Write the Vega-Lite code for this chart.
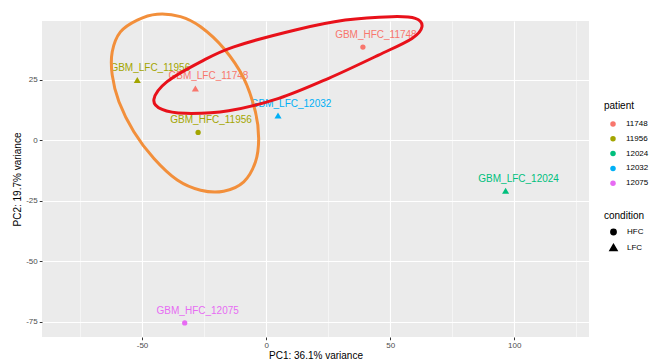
{
  "$schema": "https://vega.github.io/schema/vega-lite/v6.json",
  "width": 547,
  "height": 316,
  "autosize": {"type": "none"},
  "padding": {"left": 42, "top": 21, "right": 62, "bottom": 25},
  "background": "white",
  "config": {
    "font": "Liberation Sans",
    "view": {"fill": "#EBEBEB", "stroke": null},
    "axis": {
      "domain": false,
      "gridColor": "white",
      "tickColor": "#333333",
      "labelColor": "#4D4D4D",
      "labelFontSize": 8,
      "titleFontSize": 10,
      "titleFontWeight": "normal",
      "titleColor": "black",
      "tickSize": 2.75,
      "labelPadding": 2
    },
    "legend": {
      "titleFontSize": 10,
      "titleFontWeight": "normal",
      "titleColor": "black",
      "labelFontSize": 8,
      "labelColor": "black",
      "symbolSize": 30,
      "rowPadding": 6.8,
      "titlePadding": 9,
      "symbolOffset": 5,
      "labelOffset": 9
    }
  },
  "datasets": {
    "samples": [
      {"name": "GBM_HFC_11748", "pc1": 39.0, "pc2": 38.6, "patient": "11748", "condition": "HFC"},
      {"name": "GBM_LFC_11748", "pc1": -28.5, "pc2": 21.5, "patient": "11748", "condition": "LFC"},
      {"name": "GBM_LFC_11956", "pc1": -51.9, "pc2": 25.0, "patient": "11956", "condition": "LFC"},
      {"name": "GBM_HFC_11956", "pc1": -27.4, "pc2": 3.3, "patient": "11956", "condition": "HFC"},
      {"name": "GBM_LFC_12032", "pc1": 4.8, "pc2": 10.3, "patient": "12032", "condition": "LFC"},
      {"name": "GBM_LFC_12024", "pc1": 96.5, "pc2": -20.8, "patient": "12024", "condition": "LFC"},
      {"name": "GBM_HFC_12075", "pc1": -32.8, "pc2": -75.5, "patient": "12075", "condition": "HFC"}
    ],
    "ellipses": [
      {"ellipse": "red", "ord": 1, "pc1": -45.2, "pc2": 17.0},
      {"ellipse": "red", "ord": 2, "pc1": -41.9, "pc2": 12.8},
      {"ellipse": "red", "ord": 3, "pc1": -32.5, "pc2": 11.2},
      {"ellipse": "red", "ord": 4, "pc1": -15.1, "pc2": 12.3},
      {"ellipse": "red", "ord": 5, "pc1": 5.1, "pc2": 17.4},
      {"ellipse": "red", "ord": 6, "pc1": 25.2, "pc2": 25.7},
      {"ellipse": "red", "ord": 7, "pc1": 45.3, "pc2": 35.3},
      {"ellipse": "red", "ord": 8, "pc1": 58.8, "pc2": 42.2},
      {"ellipse": "red", "ord": 9, "pc1": 62.8, "pc2": 47.0},
      {"ellipse": "red", "ord": 10, "pc1": 60.1, "pc2": 50.5},
      {"ellipse": "red", "ord": 11, "pc1": 50.7, "pc2": 51.2},
      {"ellipse": "red", "ord": 12, "pc1": 31.9, "pc2": 49.8},
      {"ellipse": "red", "ord": 13, "pc1": 11.8, "pc2": 45.7},
      {"ellipse": "red", "ord": 14, "pc1": -13.0, "pc2": 38.7},
      {"ellipse": "red", "ord": 15, "pc1": -26.4, "pc2": 32.5},
      {"ellipse": "red", "ord": 16, "pc1": -39.9, "pc2": 24.3},
      {"ellipse": "orange", "ord": 1, "pc1": -43.9, "pc2": 52.2},
      {"ellipse": "orange", "ord": 2, "pc1": -51.9, "pc2": 49.8},
      {"ellipse": "orange", "ord": 3, "pc1": -58.7, "pc2": 44.9},
      {"ellipse": "orange", "ord": 4, "pc1": -62.0, "pc2": 36.7},
      {"ellipse": "orange", "ord": 5, "pc1": -62.0, "pc2": 27.0},
      {"ellipse": "orange", "ord": 6, "pc1": -59.3, "pc2": 16.0},
      {"ellipse": "orange", "ord": 7, "pc1": -53.3, "pc2": 3.6},
      {"ellipse": "orange", "ord": 8, "pc1": -45.2, "pc2": -7.5},
      {"ellipse": "orange", "ord": 9, "pc1": -35.8, "pc2": -16.4},
      {"ellipse": "orange", "ord": 10, "pc1": -26.4, "pc2": -20.6},
      {"ellipse": "orange", "ord": 11, "pc1": -17.1, "pc2": -21.0},
      {"ellipse": "orange", "ord": 12, "pc1": -9.0, "pc2": -17.1},
      {"ellipse": "orange", "ord": 13, "pc1": -4.3, "pc2": -8.9},
      {"ellipse": "orange", "ord": 14, "pc1": -3.0, "pc2": 0.8},
      {"ellipse": "orange", "ord": 15, "pc1": -4.3, "pc2": 11.8},
      {"ellipse": "orange", "ord": 16, "pc1": -9.0, "pc2": 25.7},
      {"ellipse": "orange", "ord": 17, "pc1": -17.1, "pc2": 38.1},
      {"ellipse": "orange", "ord": 18, "pc1": -26.4, "pc2": 47.0},
      {"ellipse": "orange", "ord": 19, "pc1": -34.5, "pc2": 51.2}
    ]
  },
  "layer": [
    {
      "data": {"name": "samples"},
      "mark": {"type": "point", "filled": true, "opacity": 1},
      "encoding": {
        "x": {
          "field": "pc1", "type": "quantitative",
          "scale": {"domain": [-90.3, 130.1], "nice": false, "zero": false},
          "axis": {
            "title": "PC1: 36.1% variance",
            "titlePadding": 1,
            "values": [-75, -50, -25, 0, 25, 50, 75, 100, 125],
            "labelExpr": "datum.value % 50 === 0 ? toString(datum.value) : ''",
            "gridWidth": {"condition": {"test": "datum.value % 50 !== 0", "value": 0.5}, "value": 1.1},
            "tickSize": {"condition": {"test": "datum.value % 50 !== 0", "value": 0}, "value": 2.75}
          }
        },
        "y": {
          "field": "pc2", "type": "quantitative",
          "scale": {"domain": [-81.3, 49.4], "nice": false, "zero": false},
          "axis": {
            "title": "PC2: 19.7% variance",
            "titlePadding": 3,
            "values": [-75, -62.5, -50, -37.5, -25, -12.5, 0, 12.5, 25, 37.5],
            "labelExpr": "datum.value % 25 === 0 ? toString(datum.value) : ''",
            "gridWidth": {"condition": {"test": "datum.value % 25 !== 0", "value": 0.5}, "value": 1.1},
            "tickSize": {"condition": {"test": "datum.value % 25 !== 0", "value": 0}, "value": 2.75}
          }
        },
        "color": {
          "field": "patient", "type": "nominal",
          "scale": {"domain": ["11748", "11956", "12024", "12032", "12075"], "range": ["#F8766D", "#A3A500", "#00BF7D", "#00B0F6", "#E76BF3"]},
          "legend": {"title": "patient", "orient": "none", "legendX": 562, "legendY": 80, "symbolType": "circle"}
        },
        "shape": {
          "field": "condition", "type": "nominal",
          "scale": {"domain": ["HFC", "LFC"], "range": ["circle", "triangle-up"]},
          "legend": {"title": "condition", "orient": "none", "legendX": 562, "legendY": 190, "rowPadding": 3, "titlePadding": 7, "symbolFillColor": "black", "symbolStrokeColor": "black"}
        },
        "size": {
          "field": "condition", "type": "nominal",
          "scale": {"domain": ["HFC", "LFC"], "range": [28, 50]},
          "legend": {"title": "condition", "orient": "none", "legendX": 562, "legendY": 190, "rowPadding": 3, "titlePadding": 7, "symbolFillColor": "black", "symbolStrokeColor": "black"}
        }
      }
    },
    {
      "data": {"name": "samples"},
      "mark": {"type": "text", "dx": 13, "dy": -12, "fontSize": 10, "baseline": "middle", "align": "center"},
      "encoding": {
        "x": {"field": "pc1", "type": "quantitative"},
        "y": {"field": "pc2", "type": "quantitative"},
        "text": {"field": "name"},
        "color": {"field": "patient", "type": "nominal"}
      }
    },
    {
      "data": {"name": "ellipses"},
      "transform": [{"filter": "datum.ellipse === 'orange'"}],
      "mark": {"type": "line", "interpolate": "cardinal-closed", "strokeWidth": 3, "color": "#F28F3B"},
      "encoding": {
        "x": {"field": "pc1", "type": "quantitative"},
        "y": {"field": "pc2", "type": "quantitative"},
        "order": {"field": "ord", "type": "quantitative"}
      }
    },
    {
      "data": {"name": "ellipses"},
      "transform": [{"filter": "datum.ellipse === 'red'"}],
      "mark": {"type": "line", "interpolate": "cardinal-closed", "strokeWidth": 3, "color": "#E8111A"},
      "encoding": {
        "x": {"field": "pc1", "type": "quantitative"},
        "y": {"field": "pc2", "type": "quantitative"},
        "order": {"field": "ord", "type": "quantitative"}
      }
    }
  ]
}
